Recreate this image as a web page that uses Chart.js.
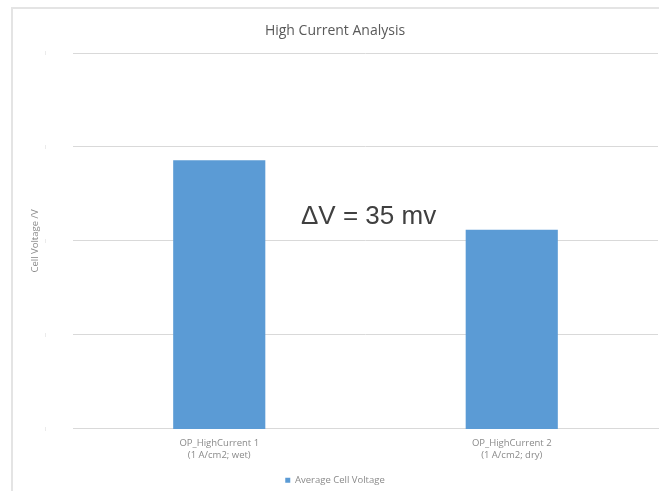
<!DOCTYPE html>
<html>
<head>
    <title>High Current Analysis</title>
    <script src="https://cdn.jsdelivr.net/npm/chart.js"></script>
    <style>
        html, body { margin: 0; padding: 0; background: #fff; overflow: hidden; }
        #frame { position: absolute; left: 11px; top: 7px; width: 680px; height: 520px; border: 2px solid #e4e4e4; }
        #wrap { position: absolute; left: 12px; top: 8px; width: 658px; height: 487px; }
    </style>
</head>
<body>
    <div id="frame"></div>
    <div id="wrap"><canvas id="voltChart"></canvas></div>

    <script>
        // values (volts)
        const categories = [
            ['OP_HighCurrent 1', '(1 A/cm2; wet)'],
            ['OP_HighCurrent 2', '(1 A/cm2; dry)']
        ];
        const avgCellVoltage = [0.693, 0.656];
        const yTicks = [0.55, 0.60, 0.65, 0.70, 0.75];
        const seriesName = 'Average Cell Voltage';
        const noteText = '\u0394V = 35 mv';

        const grey = '#d9d9d9';
        const textGrey = '#8a8a8a';

        // the delta V note sits in the middle of the chart
        const notePlugin = {
            id: 'deltaNote',
            afterDraw(chart) {
                const ctx = chart.ctx;
                ctx.save();
                ctx.font = '26px "Liberation Sans", Arial, sans-serif';
                ctx.fillStyle = '#404040';
                ctx.textAlign = 'left';
                ctx.textBaseline = 'middle';
                ctx.fillText(noteText, 289, 209);
                ctx.restore();
            }
        };

        const ctx = document.getElementById('voltChart').getContext('2d');
        const chart = new Chart(ctx, {
            type: 'bar',
            data: {
                labels: categories,
                datasets: [{
                    label: seriesName,
                    data: avgCellVoltage,
                    backgroundColor: '#5b9bd5',
                    borderWidth: 0,
                    barPercentage: 0.315,
                    categoryPercentage: 1
                }]
            },
            options: {
                responsive: true,
                maintainAspectRatio: false,
                animation: false,
                layout: { padding: { left: 0, right: 12, top: 0, bottom: 0 } },
                plugins: {
                    title: {
                        display: true,
                        text: 'High Current Analysis',
                        color: '#595959',
                        font: { family: 'Open Sans', size: 14, weight: 'normal', lineHeight: 1.2 },
                        padding: { top: 14.6, bottom: 13.6 }
                    },
                    legend: {
                        position: 'bottom',
                        labels: {
                            color: textGrey,
                            font: { family: 'Open Sans', size: 9.5 },
                            boxWidth: 5,
                            boxHeight: 5,
                            padding: 2
                        }
                    },
                    tooltip: { enabled: false }
                },
                scales: {
                    x: {
                        grid: { display: false, drawTicks: false },
                        border: { color: grey, width: 1 },
                        ticks: {
                            color: textGrey,
                            font: { family: 'Open Sans', size: 9.5, lineHeight: 1.3 },
                            padding: 8,
                            maxRotation: 0
                        },
                        afterFit(scale) { scale.height = 44.6; }
                    },
                    y: {
                        min: yTicks[0],
                        max: yTicks[yTicks.length - 1],
                        afterBuildTicks(scale) { scale.ticks = yTicks.map(v => ({ value: v })); },
                        grid: { color: grey, drawTicks: false },
                        border: { display: false },
                        ticks: {
                            color: '#c8c8c8',
                            font: { size: 4 },
                            padding: 27,
                            callback: () => '|'
                        },
                        title: {
                            display: true,
                            text: 'Cell Voltage /V',
                            color: '#8a8a8a',
                            font: { family: 'Open Sans', size: 9.5 },
                            padding: { top: 18, bottom: 0 }
                        },
                        afterFit(scale) { scale.width = 61; }
                    }
                }
            },
            plugins: [notePlugin]
        });
    </script>
</body>
</html>
